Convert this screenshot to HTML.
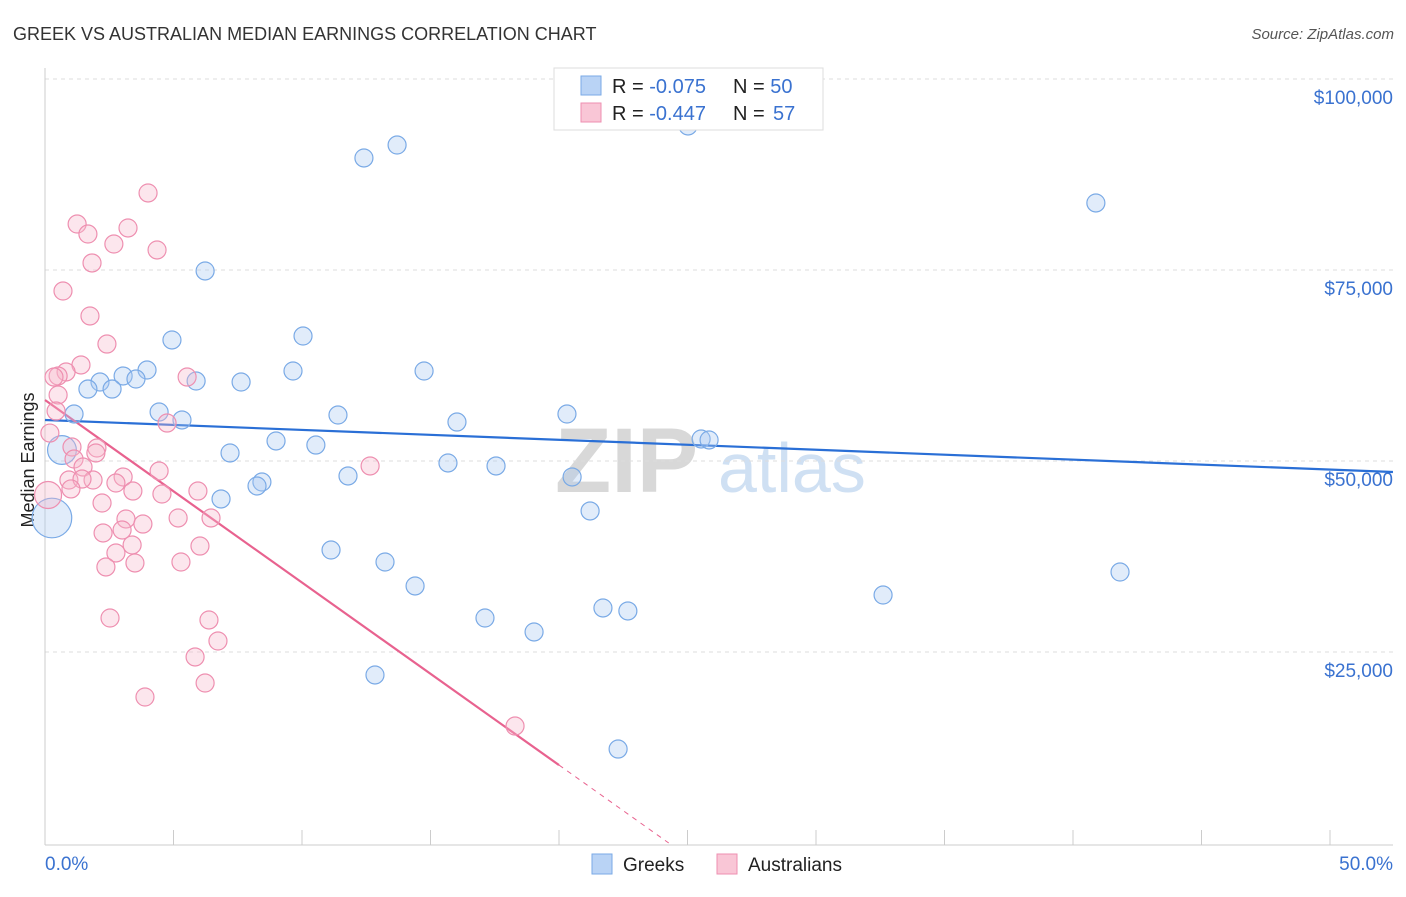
<!DOCTYPE html>
<html><head><meta charset="utf-8"><style>
body{margin:0;background:#fff;font-family:"Liberation Sans",sans-serif;}
svg text{font-family:"Liberation Sans",sans-serif;}
</style></head><body>
<svg id="chart" width="1406" height="892">
<text x="13" y="40" font-size="18" fill="#333">GREEK VS AUSTRALIAN MEDIAN EARNINGS CORRELATION CHART</text>
<text x="1394" y="39" font-size="15" fill="#555" font-style="italic" text-anchor="end">Source: ZipAtlas.com</text>
<text x="34" y="460" font-size="18" fill="#222" text-anchor="middle" transform="rotate(-90 34 460)">Median Earnings</text>
<g><text x="555" y="492" font-size="92" fill="#d8d8d8" font-family="Liberation Serif" font-weight="bold">ZIP</text><text x="718" y="492" font-size="70" fill="#cfe0f3">atlas</text></g>
<g id="grid"></g><g id="axes"></g><g id="lines"></g><g id="pts"></g>
<g>
<rect x="554" y="68" width="269" height="62" fill="#fff" stroke="#ddd"/>
<rect x="581" y="76" width="20" height="19" fill="#b9d3f5" stroke="#7aaae6"/>
<rect x="581" y="103" width="20" height="19" fill="#f9c6d6" stroke="#ee8fb0"/>
<text x="612" y="93" font-size="20" fill="#222">R = <tspan fill="#3a72d0">-0.075</tspan><tspan x="733">N = </tspan><tspan fill="#3a72d0">50</tspan></text>
<text x="612" y="120" font-size="20" fill="#222">R = <tspan fill="#3a72d0">-0.447</tspan><tspan x="733">N = </tspan><tspan fill="#3a72d0" x="773">57</tspan></text>
</g>
<g>
<rect x="592" y="854" width="20" height="20" fill="#b9d3f5" stroke="#7aaae6"/><text x="623" y="871" font-size="19" fill="#222">Greeks</text>
<rect x="717" y="854" width="20" height="20" fill="#f9c6d6" stroke="#ee8fb0"/><text x="748" y="871" font-size="19" fill="#222">Australians</text>
</g>
</svg>
<script>
const yTicks=[25000,50000,75000,100000];
const yTickLabels=["$25,000","$50,000","$75,000","$100,000"];
const greeksX=[25.02,13.70,12.41,40.89,6.23,4.94,10.04,9.65,14.75,3.97,3.04,3.54,5.88,7.63,2.14,1.67,2.61,4.44,1.13,5.33,11.40,16.03,20.31,8.99,10.54,7.20,25.53,25.84,15.68,17.55,11.79,20.51,8.44,8.25,6.85,21.21,11.13,13.23,14.40,41.83,32.61,21.71,22.68,17.12,19.03,12.84,22.30,0.66,0.27];
const greeksY=[93.85,91.36,89.66,83.77,74.87,65.84,66.36,61.78,61.78,61.91,61.13,60.73,60.47,60.34,60.34,59.42,59.42,56.41,56.15,55.37,56.02,55.10,56.15,52.62,52.09,51.05,52.88,52.75,49.74,49.35,48.04,47.91,47.25,46.73,45.03,43.46,38.35,36.78,33.64,35.47,32.46,30.76,30.37,29.45,27.62,21.99,12.30,51.44,42.54];
const greeksSize=[1,1,1,1,1,1,1,1,1,1,1,1,1,1,1,1,1,1,1,1,1,1,1,1,1,1,1,1,1,1,1,1,1,1,1,1,1,1,1,1,1,1,1,1,1,1,1,1.6,2.2];
const ausX=[4.01,1.25,1.67,3.23,2.68,4.36,1.83,0.70,1.75,2.41,1.40,0.82,0.51,5.53,0.35,0.51,0.43,4.75,0.19,1.05,2.02,1.98,1.13,1.48,4.44,12.65,3.04,0.93,1.87,2.76,1.44,1.01,3.42,4.55,5.95,2.22,3.15,5.18,6.46,3.81,3.00,2.26,3.39,2.76,6.03,5.29,3.50,2.37,2.53,6.38,6.73,5.84,6.23,3.89,18.29,0.12];
const ausY=[85.08,81.02,79.71,80.50,78.40,77.62,75.92,72.25,68.98,65.31,62.57,61.65,61.13,60.99,60.99,58.64,56.54,54.97,53.66,51.83,51.70,51.05,50.26,49.21,48.69,49.35,47.91,47.51,47.51,47.12,47.64,46.34,46.07,45.68,46.07,44.50,42.41,42.54,42.54,41.75,40.97,40.58,39.01,37.96,38.87,36.78,36.65,36.13,29.45,29.19,26.44,24.35,20.94,19.11,15.31,45.55];
const ausSize=[1,1,1,1,1,1,1,1,1,1,1,1,1,1,1,1,1,1,1,1,1,1,1,1,1,1,1,1,1,1,1,1,1,1,1,1,1,1,1,1,1,1,1,1,1,1,1,1,1,1,1,1,1,1,1,1.5];
const greeksTrend=[55.37,48.56];
const ausTrend=[57.98,10.2];
const NS="http://www.w3.org/2000/svg";
const X=p=>45+p*25.7;
const Y=v=>843-v*7.64;
function mk(t,a,parent){const e=document.createElementNS(NS,t);for(const k in a)e.setAttribute(k,a[k]);document.getElementById(parent).appendChild(e);return e;}
yTicks.forEach((t,i)=>{
 const l=mk('line',{x1:45,x2:1393,y1:Y(t/1000),y2:Y(t/1000),stroke:'#ddd','stroke-dasharray':'4,4'},'grid');
 
 
 const tx=mk('text',{x:1393,y:Y(t/1000)+25,'font-size':19,fill:'#3a72d0','text-anchor':'end'},'grid');
 tx.textContent=yTickLabels[i];
 
 
});
const topGrid=mk('line',{x1:45,x2:1393,y1:79,y2:79,stroke:'#ddd','stroke-dasharray':'4,4'},'grid');


mk('line',{x1:45,x2:45,y1:68,y2:845,stroke:'#ccc'},'axes');
mk('line',{x1:45,x2:1393,y1:845,y2:845,stroke:'#ccc'},'axes');
for(let i=0;i<=10;i++){const t=mk('line',{x1:X(i*5),x2:X(i*5),y1:830,y2:845,stroke:'#ccc'},'axes');
 
 }
let a=mk('text',{x:45,y:870,'font-size':19,fill:'#3a72d0'},'axes');a.textContent='0.0%';


a=mk('text',{x:1393,y:870,'font-size':19,fill:'#3a72d0','text-anchor':'end'},'axes');a.textContent='50.0%';


function pts(xs,ys,sz,fill,stroke,name){xs.forEach((x,i)=>{const c=mk('circle',{cx:X(x),cy:Y(ys[i]),r:9*sz[i],fill:fill,'fill-opacity':0.35,stroke:stroke,'stroke-width':1.2},'pts');
 
 });}
pts(greeksX,greeksY,greeksSize,'#a9c8f0','#7aaae6','greeks-point');
pts(ausX,ausY,ausSize,'#f6b8cc','#ee8fb0','australians-point');
let l=mk('line',{x1:X(0),y1:Y(greeksTrend[0]),x2:X(52.45),y2:Y(greeksTrend[1]),stroke:'#2a6fd6','stroke-width':2.2},'lines');


const slope=(ausTrend[1]-ausTrend[0])/20;
l=mk('line',{x1:X(0),y1:Y(ausTrend[0]),x2:X(20),y2:Y(ausTrend[1]),stroke:'#e8628f','stroke-width':2.2},'lines');


const xz=-ausTrend[0]/slope;
l=mk('line',{x1:X(20),y1:Y(ausTrend[1]),x2:X(xz),y2:Y(0),stroke:'#e8628f','stroke-width':1,'stroke-dasharray':'5,5'},'lines');


</script>
</body></html>
